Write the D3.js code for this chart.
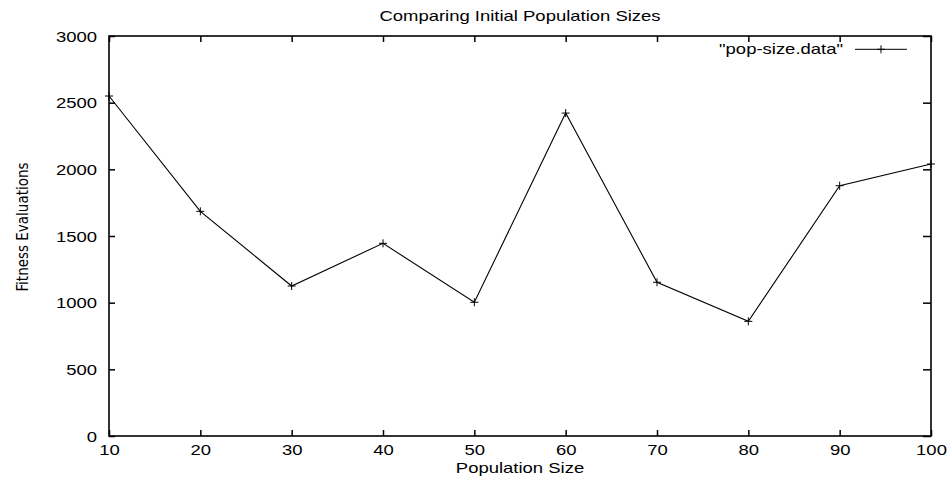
<!DOCTYPE html>
<html>
<head>
<meta charset="utf-8">
<script src="https://cdn.jsdelivr.net/npm/d3@7"></script>
<style>
  body { margin: 0; background: #fff; }
  text { font-family: "Liberation Sans", Arial, sans-serif; fill: #000; }
</style>
</head>
<body>
<div id="chart"></div>
<script>
// data
var popSizes = [10, 20, 30, 40, 50, 60, 70, 80, 90, 100];
var evals = [2550, 1685, 1125, 1445, 1003, 2422, 1153, 860, 1877, 2040];
var yTicks = [0, 500, 1000, 1500, 2000, 2500, 3000];
var seriesName = '"pop-size.data"';

var sWidth = 952;
var sHeight = 483;

var marg = {
    top: 36,
    bottom: 47,
    left: 109,
    right: 21,
}

var width = sWidth - marg.left - marg.right;
var height = sHeight - marg.top - marg.bottom;

// the reference text is stretched sideways
var sx = 1.32;
var fs = 14;

var svg = d3.select('#chart')
    .append('svg')
    .attr('width', sWidth)
    .attr('height', sHeight);

var g = svg.append('g')
    .attr('transform', `translate(${marg.left}, ${marg.top})`);

var x = d3.scaleLinear().domain([10, 100]).range([0, width]);
var y = d3.scaleLinear().domain([0, 3000]).range([height, 0]);

// inward ticks, gnuplot style
var tickLen = 6;

var bottomAxis = d3.axisBottom(x).tickValues(popSizes).tickSize(-tickLen).tickPadding(8).tickFormat(d3.format('d'));
var leftAxis = d3.axisLeft(y).tickValues(yTicks).tickSize(-tickLen).tickPadding(12 / sx).tickFormat(d3.format('d'));

var xAxis = g.append('g')
    .attr('transform', `translate(0, ${height})`)
    .call(bottomAxis);

var yAxis = g.append('g').call(leftAxis);

// mirrored ticks on top and right
g.append('g').call(d3.axisTop(x).tickValues(popSizes).tickSize(-tickLen).tickFormat(''));
g.append('g').attr('transform', `translate(${width}, 0)`)
    .call(d3.axisRight(y).tickValues(yTicks).tickSize(-8).tickFormat(''));

g.selectAll('.domain').remove();
g.selectAll('.tick line').attr('stroke', '#000').attr('stroke-width', 1.5);
g.selectAll('.tick text')
    .style('font-size', fs + 'px')
    .attr('transform', `scale(${sx},1)`);

xAxis.selectAll('.tick text').attr('y', 9).attr('dy', '0.71em');
yAxis.selectAll('.tick text').attr('dy', '0.36em');

// border
g.append('rect')
    .attr('x', 0).attr('y', 0)
    .attr('width', width).attr('height', height)
    .attr('fill', 'none')
    .attr('stroke', '#000')
    .attr('stroke-width', 1.6);

var line = d3.line()
    .x((d, i) => x(popSizes[i]))
    .y(d => y(d));

g.append('path')
    .datum(evals)
    .attr('d', line)
    .attr('fill', 'none')
    .attr('stroke', '#000')
    .attr('stroke-width', 1.1);

var pl = 4;
function plus(sel, cx, cy) {
    sel.append('path')
        .attr('d', `M${cx - pl},${cy}H${cx + pl}M${cx},${cy - pl}V${cy + pl}`)
        .attr('stroke', '#000')
        .attr('stroke-width', 1);
}

evals.forEach(function(d, i) {
    plus(g, x(popSizes[i]), y(d));
});

// text placed with a sideways stretch
function stretchText(sel, tx, ty, anchor, size, str) {
    return sel.append('text')
        .attr('transform', `translate(${tx}, ${ty}) scale(${sx},1)`)
        .attr('text-anchor', anchor)
        .style('font-size', size + 'px')
        .text(str);
}

// legend
var legY = 13.3;
stretchText(g, 734, legY + 5, 'end', fs, seriesName);

g.append('line')
    .attr('x1', 746).attr('x2', 798)
    .attr('y1', legY).attr('y2', legY)
    .attr('stroke', '#000')
    .attr('stroke-width', 1);
plus(g, 772, legY);

// title and axis labels
stretchText(svg, marg.left + width / 2, 20.5, 'middle', fs, 'Comparing Initial Population Sizes');
stretchText(svg, marg.left + width / 2, 473, 'middle', fs, 'Population Size');

svg.append('text')
    .attr('transform', `translate(28, 227) rotate(-90)`)
    .attr('text-anchor', 'middle')
    .style('font-family', '"Liberation Sans Narrow", "DejaVu Sans Condensed", sans-serif')
    .style('font-size', '15px')
    .text('Fitness Evaluations');
</script>
</body>
</html>
